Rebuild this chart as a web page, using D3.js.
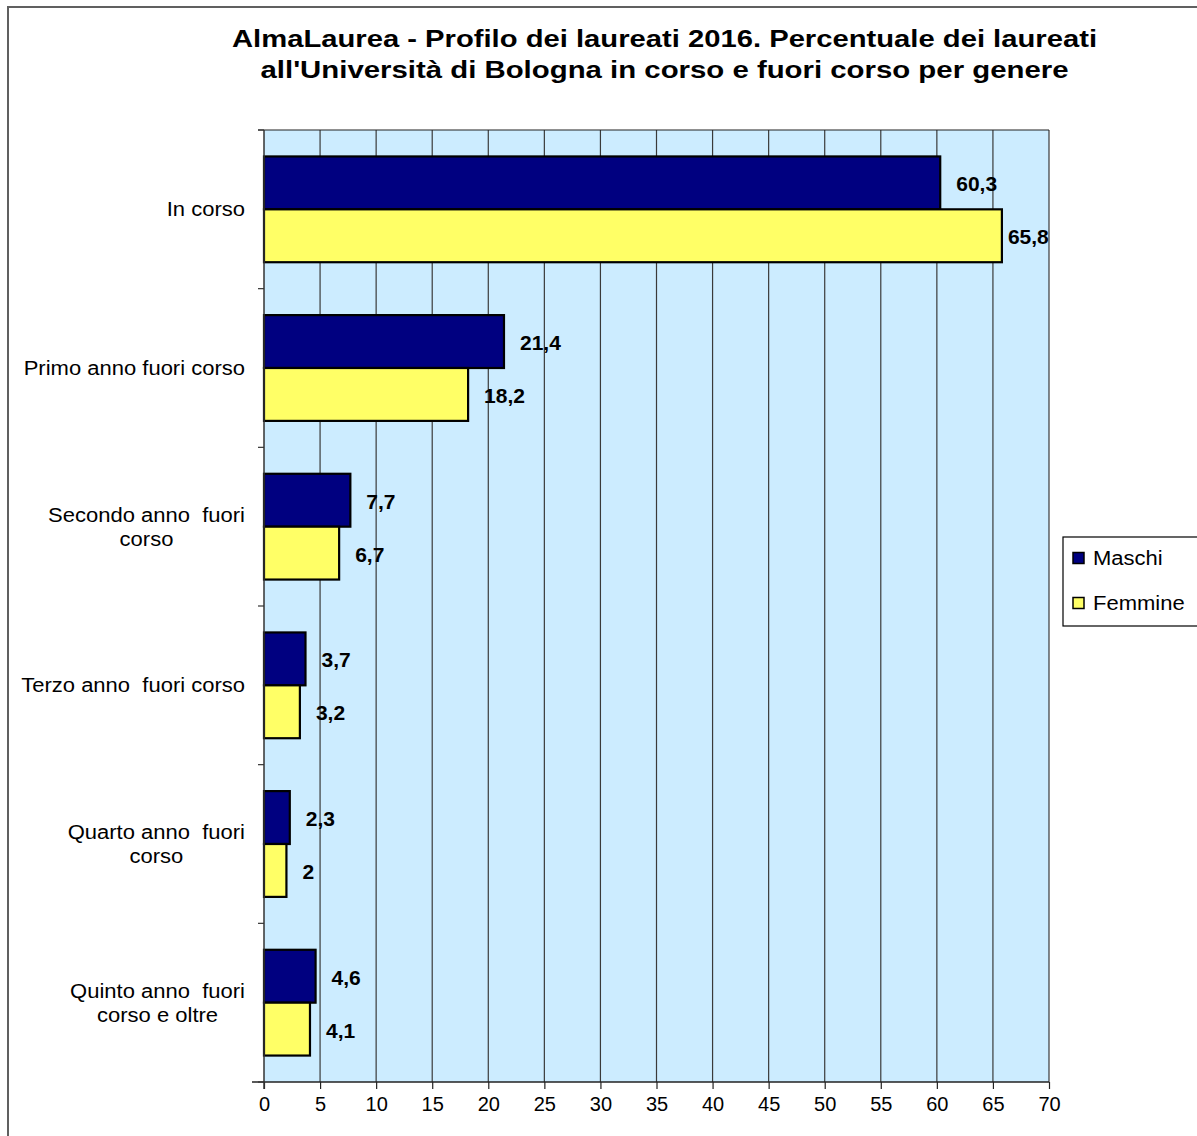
<!DOCTYPE html>
<html>
<head>
<meta charset="utf-8">
<script src="https://cdn.jsdelivr.net/npm/d3@7"></script>
<style>
html,body{margin:0;padding:0;background:#fff;}
svg{display:block;font-family:"Liberation Sans", Arial, sans-serif;}
text{white-space:pre;}
</style>
</head>
<body>
<svg id="chart" width="1197" height="1136"></svg>
<script>
const titleLines = ["AlmaLaurea - Profilo dei laureati 2016. Percentuale dei laureati",
                    "all'Università di Bologna in corso e fuori corso per genere"];
const categories = ["In corso", "Primo anno fuori corso", "Secondo anno  fuori\ncorso",
                    "Terzo anno  fuori corso", "Quarto anno  fuori\ncorso", "Quinto anno  fuori\ncorso e oltre"];
const seriesNames = ["Maschi", "Femmine"];
const maschi = [60.3, 21.4, 7.7, 3.7, 2.3, 4.6];
const femmine = [65.8, 18.2, 6.7, 3.2, 2, 4.1];
const xTicks = [0,5,10,15,20,25,30,35,40,45,50,55,60,65,70];
const colors = ["#000080", "#FFFF66"];

const svg = d3.select("#chart");
const W = 1197, H = 1136;
const plot = {left: 264, right: 1049, top: 130, bottom: 1082};

function stretch(sel, k) {
  sel.each(function() {
    const w = this.getComputedTextLength();
    d3.select(this).attr("textLength", w * k).attr("lengthAdjust", "spacingAndGlyphs");
  });
}

// outer chart border
svg.append("rect").attr("x", 8).attr("y", 7).attr("width", W + 20).attr("height", H + 20)
  .attr("fill", "#fff").attr("stroke", "#606060").attr("stroke-width", 2);

// title
const titleWidths = [865, 808];
titleLines.forEach((t, i) => {
  svg.append("text").attr("text-anchor", "middle")
    .attr("font-size", 23).attr("font-weight", "bold").attr("fill", "#000")
    .attr("x", 664.5).attr("y", 47 + i * 31)
    .attr("textLength", titleWidths[i]).attr("lengthAdjust", "spacingAndGlyphs")
    .text(t);
});

const x = d3.scaleLinear().domain([0, 70]).range([plot.left, plot.right]);
const y = d3.scaleBand().domain(categories).range([plot.top, plot.bottom]).padding(0);
const y1 = d3.scaleBand().domain(seriesNames).range([0, y.bandwidth()]).paddingInner(0).paddingOuter(0.5);

// plot background
svg.append("rect").attr("x", plot.left).attr("y", plot.top)
  .attr("width", plot.right - plot.left).attr("height", plot.bottom - plot.top)
  .attr("fill", "#CCECFF");

// vertical gridlines
svg.append("g").selectAll("line").data(xTicks.slice(1)).join("line")
  .attr("x1", d => x(d)).attr("x2", d => x(d))
  .attr("y1", plot.top).attr("y2", plot.bottom)
  .attr("stroke", "#3a3a3a").attr("stroke-width", 1.2);
svg.append("line").attr("x1", plot.left - 6).attr("x2", plot.right).attr("y1", plot.top).attr("y2", plot.top)
  .attr("stroke", "#222").attr("stroke-width", 1.2);

// bars
const data = categories.map((c, i) => ({cat: c, vals: [maschi[i], femmine[i]]}));
const groups = svg.append("g").selectAll("g").data(data).join("g")
  .attr("transform", d => `translate(0,${y(d.cat)})`);
groups.selectAll("rect").data(d => d.vals.map((v, j) => ({v, s: seriesNames[j], j}))).join("rect")
  .attr("x", x(0)).attr("y", d => y1(d.s))
  .attr("width", d => x(d.v) - x(0)).attr("height", y1.bandwidth())
  .attr("fill", d => colors[d.j]).attr("stroke", "#000").attr("stroke-width", 2.2);

// value labels
groups.selectAll("text.val").data(d => d.vals.map((v, j) => ({v, s: seriesNames[j], j}))).join("text")
  .attr("class", "val")
  .attr("font-size", 21).attr("font-weight", "bold").attr("fill", "#000")
  .attr("dominant-baseline", "central")
  .attr("y", d => y1(d.s) + y1.bandwidth() / 2 + 1)
  .text(d => String(d.v).replace(".", ","))
  .each(function(d) {
    const w = this.getComputedTextLength();
    let px = x(d.v) + 16;
    if (px + w > plot.right) px = x(d.v) + 6;
    d3.select(this).attr("x", px);
  });

// x axis
const xAxis = svg.append("g").attr("transform", `translate(0,${plot.bottom})`)
  .call(d3.axisBottom(x).tickValues(xTicks).tickSize(7).tickPadding(8).tickFormat(d3.format("d")));
xAxis.select(".domain").attr("stroke", "#222").attr("stroke-width", 1.5).attr("d", `M${plot.left - 12},0H${plot.right}`);
xAxis.selectAll(".tick line").attr("stroke", "#222").attr("stroke-width", 1.2);
xAxis.selectAll("text").attr("font-size", 20).attr("fill", "#000")
  .attr("font-family", "Liberation Sans, Arial, sans-serif");

// y axis line and ticks
svg.append("line").attr("x1", plot.left).attr("x2", plot.left).attr("y1", plot.top).attr("y2", plot.bottom + 7)
  .attr("stroke", "#333").attr("stroke-width", 1.5);
const bounds = categories.map(c => y(c)).concat([plot.bottom]);
svg.append("g").selectAll("line").data(bounds).join("line")
  .attr("x1", plot.left - 6).attr("x2", plot.left)
  .attr("y1", d => d).attr("y2", d => d)
  .attr("stroke", "#333").attr("stroke-width", 1.2);

// category labels
categories.forEach(c => {
  const lines = c.split("\n");
  const cy = y(c) + y.bandwidth() / 2;
  const g = svg.append("g");
  const texts = lines.map((l, i) => g.append("text")
    .attr("font-size", 20).attr("fill", "#000")
    .attr("y", cy + 7 - (lines.length - 1) * 12 + i * 24).text(l));
  const k = 1.1;
  const maxW = d3.max(texts, t => t.node().getComputedTextLength()) * k;
  const rightEdge = 245;
  texts.forEach(t => {
    stretch(t, k);
    t.attr("text-anchor", "middle").attr("x", rightEdge - maxW / 2);
  });
});

// legend
const lg = svg.append("g");
lg.append("rect").attr("x", 1063).attr("y", 537).attr("width", 160).attr("height", 89)
  .attr("fill", "#fff").attr("stroke", "#000").attr("stroke-width", 1.2);
seriesNames.forEach((s, i) => {
  const cy = 558 + i * 45;
  lg.append("rect").attr("x", 1073).attr("y", cy - 5.5).attr("width", 11).attr("height", 11)
    .attr("fill", colors[i]).attr("stroke", "#000").attr("stroke-width", 1.5);
  const t = lg.append("text").attr("x", 1093).attr("y", cy).attr("dominant-baseline", "central")
    .attr("font-size", 20).attr("fill", "#000").text(s);
  stretch(t, 1.1);
});
</script>
</body>
</html>
